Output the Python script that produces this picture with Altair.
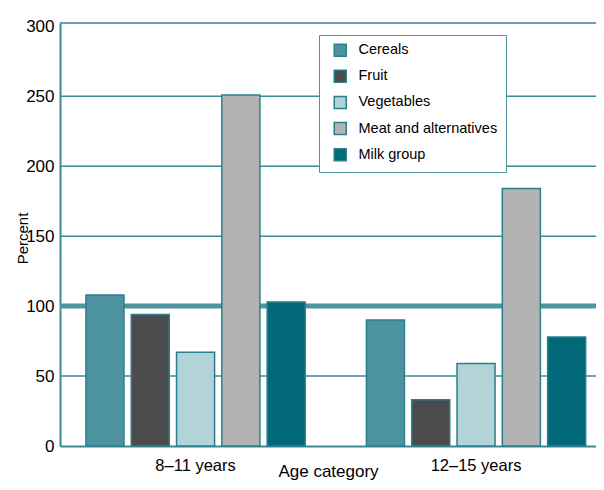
import altair as alt
import pandas as pd

ages = ["8–11 years", "12–15 years"]
groups = ["Cereals", "Fruit", "Vegetables", "Meat and alternatives", "Milk group"]
values_8_11 = [108, 94, 67, 251, 103]
values_12_15 = [90, 33, 59, 184, 78]
colors = ["#4d939f", "#4b4b4b", "#b2d3d8", "#b3b3b3", "#006878"]
y_ticks = [0, 50, 100, 150, 200, 250, 300]
grid_values = [50, 150, 200, 250]
reference = [100]
y_top = 302.4

rows = []
for age, vals in zip(ages, [values_8_11, values_12_15]):
    for g, v in zip(groups, vals):
        rows.append({"age": age, "group": g, "value": v})
df = pd.DataFrame(rows)
ref_df = pd.DataFrame({"value": reference})
grid_df = pd.DataFrame({"value": grid_values + [y_top]})

TEAL = "#3a8a96"
FONT = "Liberation Sans"

bars = alt.Chart(df).mark_bar(stroke="#2b7f8c", strokeWidth=1.5).encode(
    x=alt.X(
        "age:N", sort=ages, title="Age category",
        scale=alt.Scale(paddingInner=0.194, paddingOuter=0.0525, align=0.765),
        axis=alt.Axis(labelAngle=0, ticks=False, labelPadding=24,
                      labelBaseline="alphabetic", labelFontSize=16.5,
                      labelFont=FONT, labelColor="black", titleFontSize=17,
                      titleFont=FONT, titleFontWeight="normal", titleColor="black",
                      titleY=30, titleBaseline="alphabetic",
                      domainColor=TEAL, domainWidth=2, grid=False),
    ),
    xOffset=alt.XOffset("group:N", sort=groups,
                        scale=alt.Scale(paddingInner=0.16, paddingOuter=0.075)),
    y=alt.Y(
        "value:Q", title="Percent",
        scale=alt.Scale(domain=[0, y_top], nice=False),
        axis=alt.Axis(values=y_ticks, ticks=False, labelPadding=6, labelFontSize=17,
                      labelFont=FONT, labelColor="black", grid=False,
                      domainColor=TEAL, domainWidth=2,
                      titleFontSize=15, titleFont=FONT, titleFontWeight="normal",
                      titleColor="black", titleX=-33, titleY=215,
                      titleBaseline="alphabetic", titleAlign="center"),
    ),
    color=alt.Color(
        "group:N", sort=groups, title=None,
        scale=alt.Scale(domain=groups, range=colors),
        legend=alt.Legend(orient="none", legendX=259, legendY=12, fillColor="white",
                          strokeColor="#4e95a0", padding=8, symbolType="square",
                          symbolSize=144, symbolStrokeColor="#2b7f8c",
                          symbolStrokeWidth=1.5, symbolOffset=6, labelOffset=11,
                          labelFontSize=14.5, labelFont=FONT, labelColor="black",
                          rowPadding=7.1),
    ),
)

grid = alt.Chart(grid_df).mark_rule(color=TEAL, strokeWidth=1.5).encode(
    y=alt.Y("value:Q")
)

rule = alt.Chart(ref_df).mark_rule(color="#4e95a0", strokeWidth=5).encode(
    y=alt.Y("value:Q")
)

chart = alt.layer(grid, rule, bars).properties(
    width=536, height=423,
    padding={"left": 52, "top": 15, "right": 0, "bottom": 36},
    autosize=alt.AutoSizeParams(type="none"),
).configure_view(strokeWidth=0).configure(font=FONT)

chart.save("out.html", embed_options={"renderer": "svg", "actions": False})
